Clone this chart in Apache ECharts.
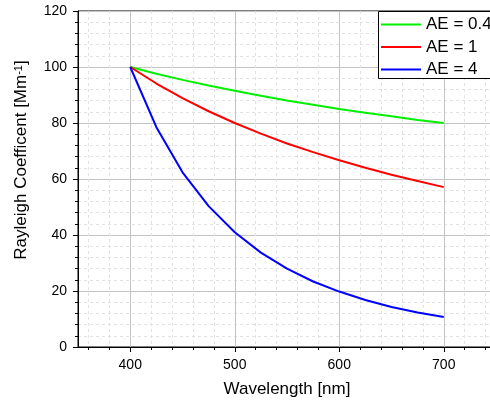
<!DOCTYPE html>
<html>
<head>
<meta charset="utf-8">
<script src="https://cdn.jsdelivr.net/npm/echarts@6/dist/echarts.min.js"></script>
<style>
  html, body { margin: 0; padding: 0; background: #fff; }
  #chart { width: 490px; height: 402px; }
</style>
</head>
<body>
<div id="chart"></div>
<script>
// Rayleigh scattering coefficient vs. wavelength for three Angstrom exponents
const wavelengths = [400, 425, 450, 475, 500, 525, 550, 575, 600, 625, 650, 675, 700];
const ae04 = [100, 97.6, 95.4, 93.4, 91.5, 89.7, 88.0, 86.5, 85.0, 83.7, 82.4, 81.1, 80.0];
const ae1  = [100, 94.1, 88.9, 84.2, 80.0, 76.2, 72.7, 69.6, 66.7, 64.0, 61.5, 59.3, 57.1];
const ae4  = [100, 78.5, 62.4, 50.3, 41.0, 33.7, 28.0, 23.4, 19.8, 16.8, 14.3, 12.3, 10.7];
const seriesNames = ['AE = 0.4', 'AE = 1', 'AE = 4'];
const xMajorTicks = [400, 500, 600, 700];
const xMinorTicks = [360, 380, 400, 420, 440, 460, 480, 500, 520, 540, 560, 580, 600, 620, 640, 660, 680, 700, 720, 740];

const font = '"Liberation Sans", Arial, Helvetica, sans-serif';
const pair = (xs, ys) => xs.map((x, i) => [x, ys[i]]);

const chart = echarts.init(document.getElementById('chart'), null, { renderer: 'canvas' });

chart.setOption({
  animation: false,
  backgroundColor: '#fff',
  grid: {
    left: 78, top: 11, right: -6, bottom: 55,
    outerBoundsMode: 'none',
    containLabel: false,
    show: true, borderColor: '#000', borderWidth: 1, backgroundColor: 'transparent'
  },
  // legend frame runs past the right edge of the canvas
  graphic: [{
    type: 'rect', left: 378, top: 11, z: 10,
    shape: { width: 140, height: 67 },
    style: { fill: '#fff', stroke: '#000', lineWidth: 1 }
  }],
  legend: {
    left: 378, top: 11, z: 20,
    orient: 'vertical',
    padding: [5, 0, 3, 3],
    itemGap: 5.5,
    itemWidth: 40, itemHeight: 2,
    icon: 'rect',
    textStyle: { fontFamily: font, fontSize: 17, color: '#000', lineHeight: 16 },
    data: seriesNames
  },
  xAxis: [
    {
      type: 'value', position: 'bottom', min: 350, max: 750,
      name: 'Wavelength [nm]', nameLocation: 'middle', nameGap: 34,
      nameTextStyle: { fontFamily: font, fontSize: 17, color: '#000' },
      axisLine: { show: true, lineStyle: { color: '#000', width: 1 } },
      axisTick: { show: true, customValues: xMajorTicks, length: 5, lineStyle: { color: '#000' } },
      axisLabel: { customValues: xMajorTicks, margin: 11, fontFamily: font, fontSize: 14, color: '#000' },
      splitLine: { show: true, lineStyle: { color: '#c4c4c4', width: 1 } },
      z: 3
    },
    {
      type: 'value', position: 'bottom', min: 350, max: 750,
      axisLine: { show: false },
      axisTick: { show: true, customValues: xMinorTicks, length: 3, lineStyle: { color: '#000' } },
      axisLabel: { show: false },
      splitLine: { show: true, lineStyle: { color: '#e2e2e2', width: 1, type: [3, 3] } },
      z: 1
    }
  ],
  yAxis: {
    type: 'value', min: 0, max: 120, interval: 20,
    name: 'Rayleigh Coefficent [Mm{sup|-1}]', nameLocation: 'middle', nameGap: 48,
    nameTextStyle: {
      fontFamily: font, fontSize: 17, color: '#000', padding: [0, 0, 0, 38],
      rich: { sup: { fontFamily: font, fontSize: 11, color: '#000', verticalAlign: 'top', lineHeight: 17 } }
    },
    axisLine: { show: true, lineStyle: { color: '#000', width: 1 } },
    axisTick: { show: true, length: 5, lineStyle: { color: '#000' } },
    minorTick: { show: true, splitNumber: 5, length: 3, lineStyle: { color: '#000' } },
    axisLabel: { margin: 11, fontFamily: font, fontSize: 14, color: '#000' },
    splitLine: { show: true, lineStyle: { color: '#c4c4c4', width: 1 } },
    minorSplitLine: { show: true, lineStyle: { color: '#e2e2e2', width: 1, type: [3, 3] } }
  },
  series: [
    { name: seriesNames[0], type: 'line', data: pair(wavelengths, ae04), showSymbol: false, lineStyle: { color: '#00f000', width: 2 }, itemStyle: { color: '#00f000' }, z: 5 },
    { name: seriesNames[1], type: 'line', data: pair(wavelengths, ae1), showSymbol: false, lineStyle: { color: '#ff0000', width: 2 }, itemStyle: { color: '#ff0000' }, z: 5 },
    { name: seriesNames[2], type: 'line', data: pair(wavelengths, ae4), showSymbol: false, lineStyle: { color: '#0000ff', width: 2 }, itemStyle: { color: '#0000ff' }, z: 5 }
  ]
});
</script>
</body>
</html>
